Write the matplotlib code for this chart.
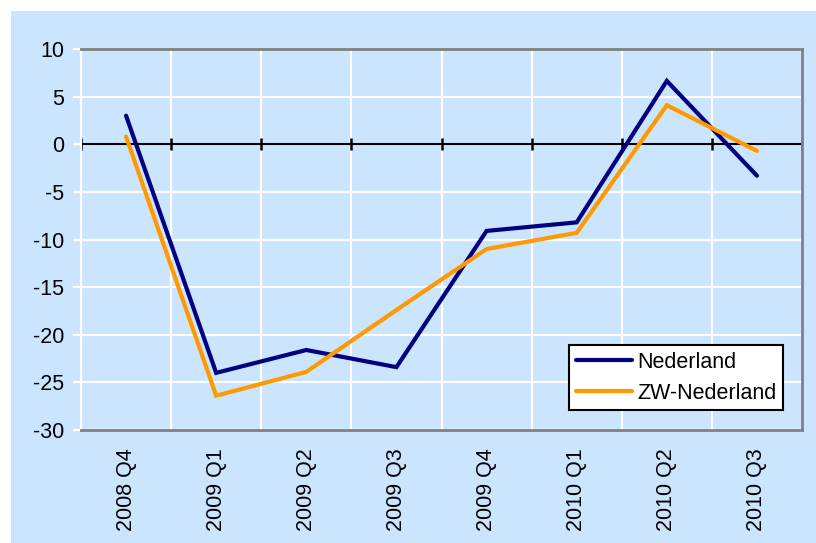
import matplotlib.pyplot as plt
import matplotlib.patches as mpatches
import numpy as np

# kwartalen
quarters = ['2008 Q4', '2009 Q1', '2009 Q2', '2009 Q3',
            '2009 Q4', '2010 Q1', '2010 Q2', '2010 Q3']
nederland = [3.0, -24.0, -21.6, -23.4, -9.1, -8.2, 6.65, -3.3]
zw_nederland = [0.8, -26.4, -23.9, -17.4, -11.0, -9.3, 4.1, -0.7]
y_ticks = [-30, -25, -20, -15, -10, -5, 0, 5, 10]

BG = '#CCE5FF'
NAVY = '#000080'
ORANGE = '#FF9900'
FS = 15.5

plt.rcParams['font.family'] = ['Liberation Sans', 'DejaVu Sans']

fig = plt.figure(figsize=(8.16, 5.43), dpi=100)
fig.patches.append(mpatches.Rectangle((11 / 816, 0), 1 - 11 / 816, 1 - 11 / 543,
                                      transform=fig.transFigure, facecolor=BG,
                                      edgecolor='none', linewidth=0, zorder=-10))

ax = fig.add_axes([81 / 816, 1 - 430 / 543, (802 - 81) / 816, (430 - 49) / 543])
ax.set_facecolor(BG)

x = np.arange(len(quarters))
bounds = np.arange(len(quarters) + 1) - 0.5

# rasterlijnen
for b in bounds:
    ax.axvline(b, color='white', lw=1.5, zorder=1)
for yt in y_ticks:
    ax.axhline(yt, color='white', lw=1.5, zorder=1)

# nullijn met streepjes
ax.axhline(0, color='black', lw=1.5, zorder=2)
ax.plot(bounds, np.zeros(len(bounds)), linestyle='none', marker='|',
        markersize=9, markeredgewidth=1.8, color='black', zorder=2)

ax.plot(x, nederland, color=NAVY, lw=3, label='Nederland', zorder=3,
        solid_capstyle='round', solid_joinstyle='miter')
ax.plot(x, zw_nederland, color=ORANGE, lw=3, label='ZW-Nederland', zorder=3,
        solid_capstyle='round', solid_joinstyle='miter')

ax.set_xlim(-0.5, len(quarters) - 0.5)
ax.set_ylim(-30, 10)
ax.set_yticks(y_ticks)
ax.set_yticklabels([str(v) for v in y_ticks], fontsize=FS)
ax.set_xticks(x)
ax.set_xticklabels(quarters, rotation=90, fontsize=FS)
ax.tick_params(axis='x', length=0, pad=13)
ax.tick_params(axis='y', length=6, width=1.5, color='white', pad=6)

for s in ['top', 'right', 'bottom']:
    ax.spines[s].set_color('#808080')
    ax.spines[s].set_linewidth(2)
ax.spines['left'].set_color('white')
ax.spines['left'].set_linewidth(1.5)

leg = ax.legend(loc='lower right', bbox_to_anchor=(0.9736, 0.0525), fontsize=FS,
                frameon=True, fancybox=False, framealpha=1, edgecolor='black',
                handlelength=2.6, handletextpad=0.25, borderpad=0.3,
                labelspacing=0.45, borderaxespad=0)
leg.get_frame().set_linewidth(1.5)

fig.savefig('out.png', dpi=100, facecolor='white')
